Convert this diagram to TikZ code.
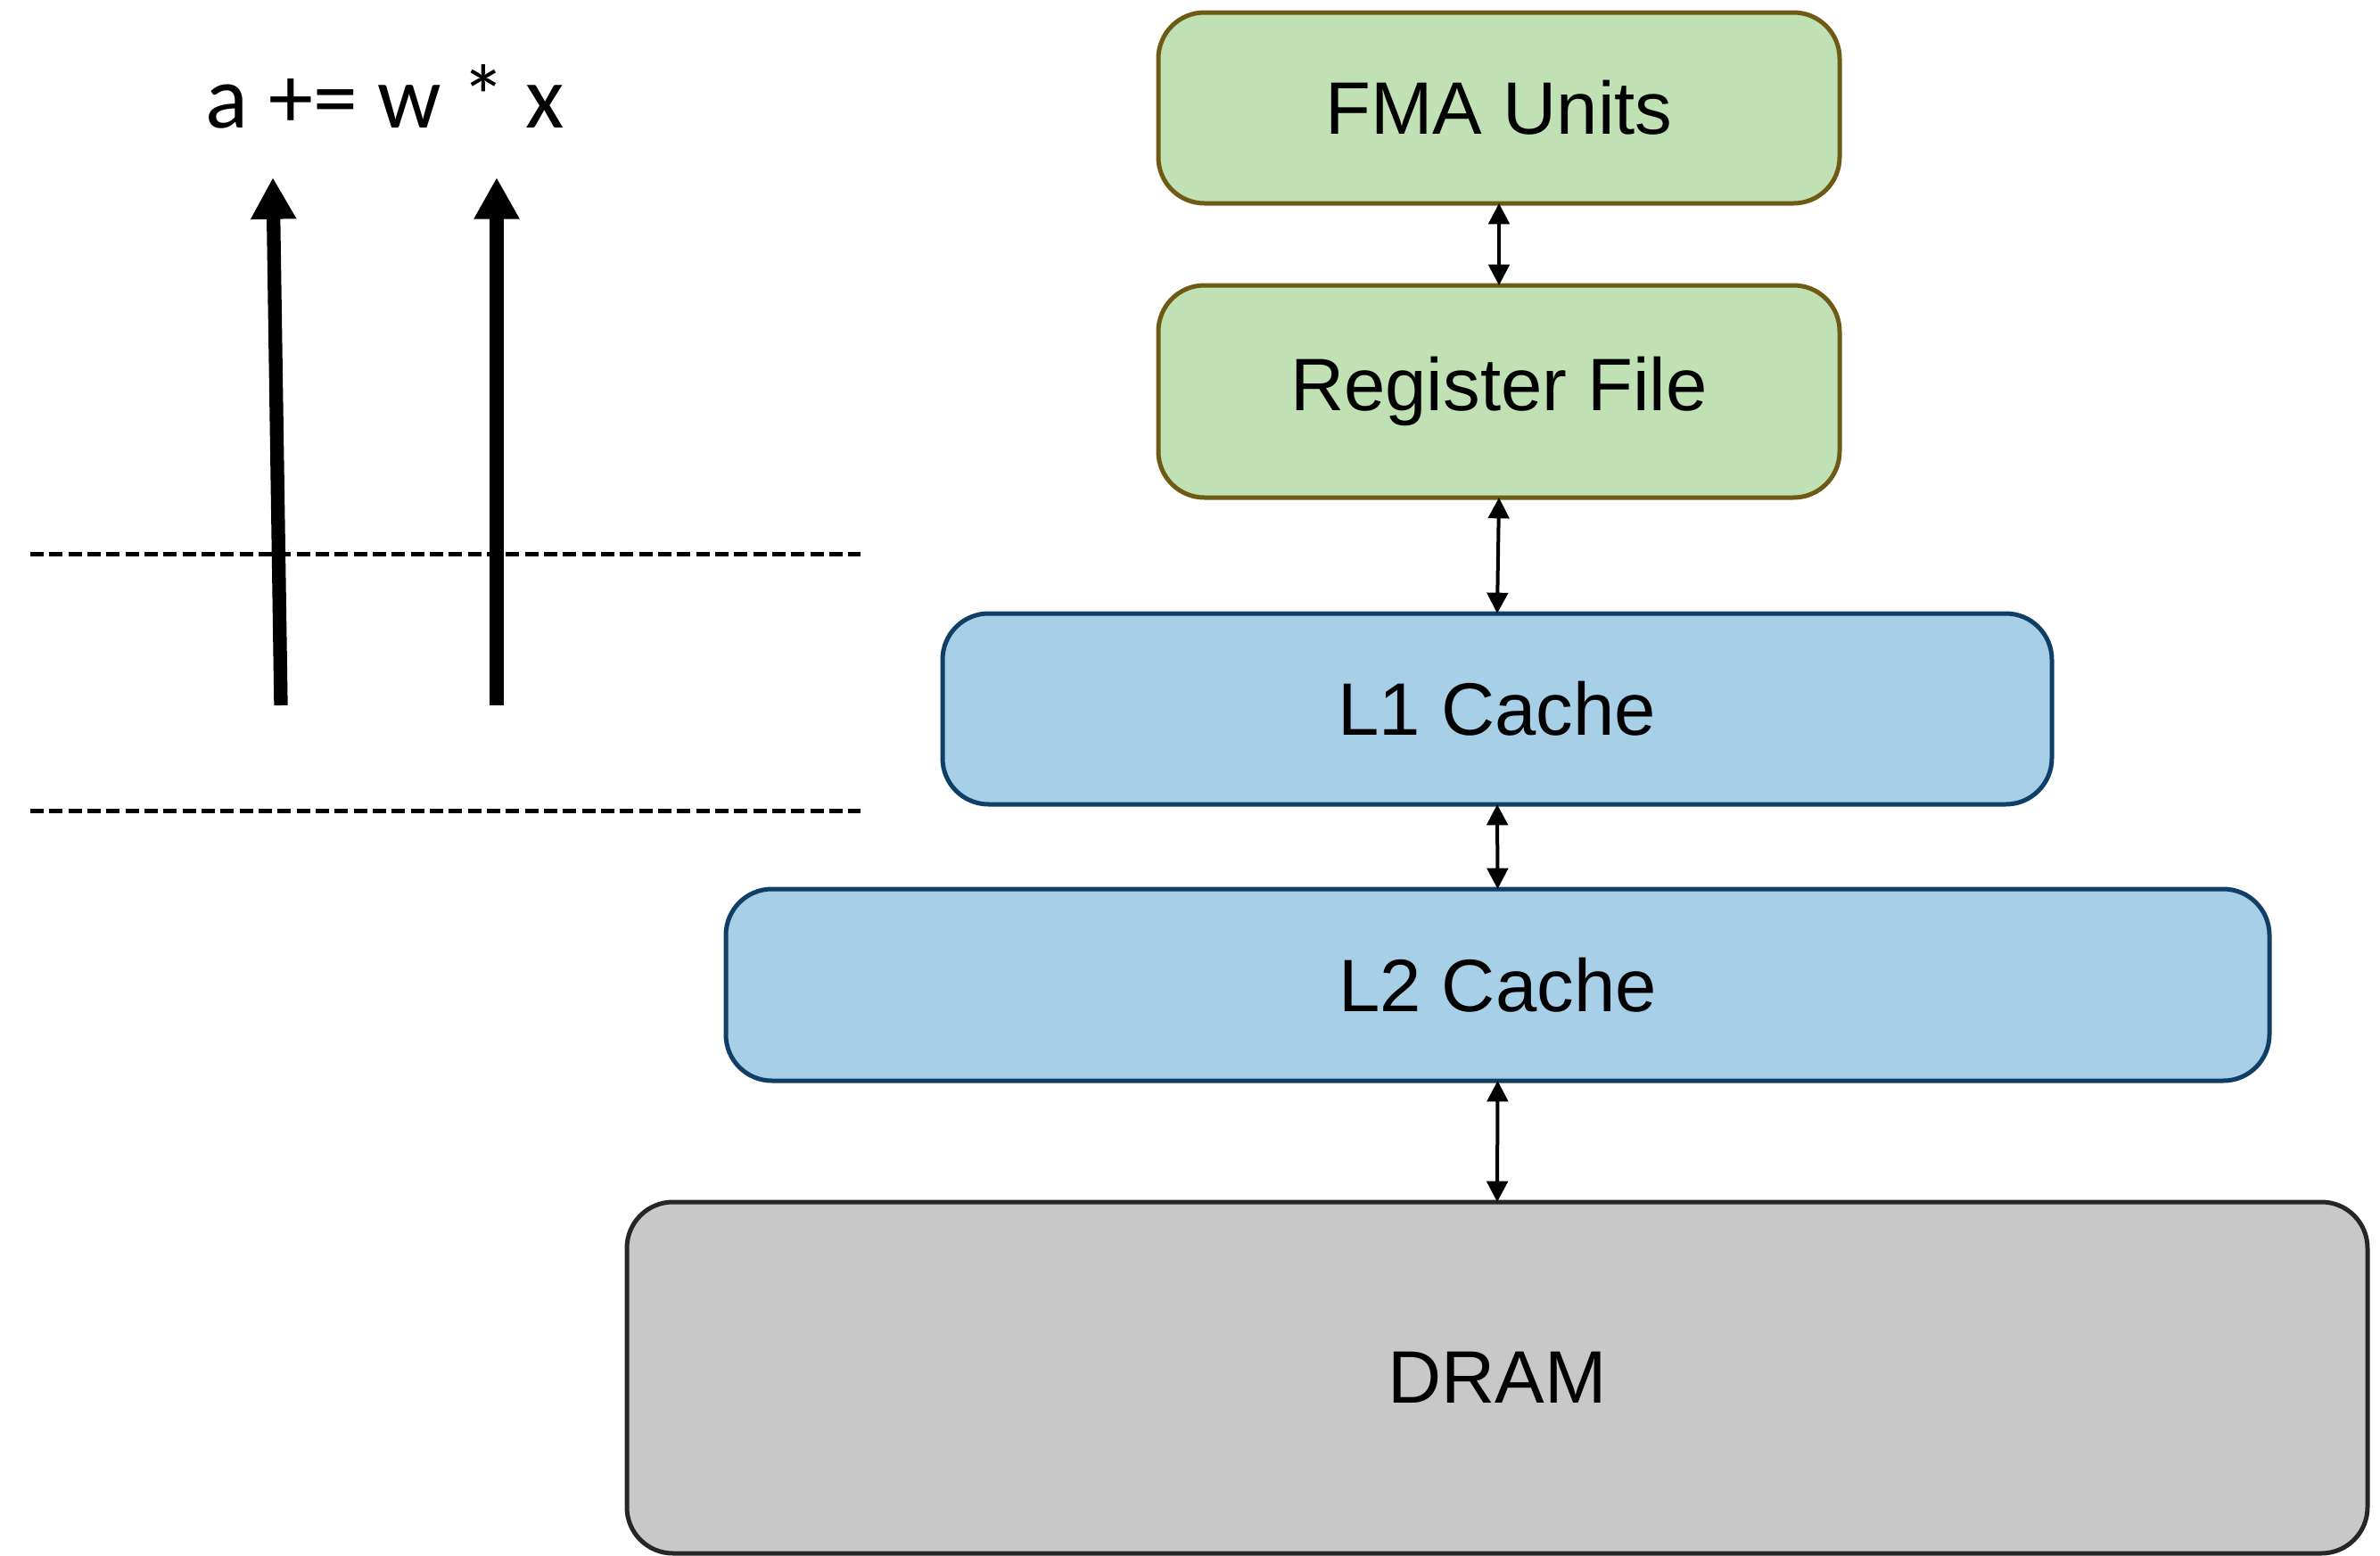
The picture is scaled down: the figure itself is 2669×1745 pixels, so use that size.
\documentclass[tikz,border=0pt]{standalone}
\usepackage{fontspec}
\setmainfont{Liberation Sans}
\newfontfamily\formulafont{Carlito}
\usetikzlibrary{arrows.meta}

\definecolor{greenfill}{HTML}{C0E1B3}
\definecolor{greenline}{HTML}{6E5A14}
\definecolor{bluefill}{HTML}{A7D0E8}
\definecolor{blueline}{HTML}{0F3F66}
\definecolor{greyfill}{HTML}{C8C8C8}
\definecolor{greyline}{HTML}{262626}

\begin{document}
\begin{tikzpicture}[x=0.3pt,y=-0.3pt,
  level/.style={draw, line width=1.5pt, rounded corners=15.5pt, inner sep=0pt,
    outer sep=0pt, font=\fontsize{25}{30}\selectfont},
  greenlevel/.style={level, draw=greenline, fill=greenfill},
  bluelevel/.style={level, draw=blueline, fill=bluefill},
  greylevel/.style={level, draw=greyline, fill=greyfill},
  link/.style={line width=1.2pt,
    {Triangle[length=7pt,width=7pt]}-{Triangle[length=7pt,width=7pt]}},
  operand/.style={line width=4.6pt, -{Triangle[length=14pt,width=14.4pt]}},
  boundary/.style={line width=1.5pt, dash pattern=on 4.5pt off 1.9pt}]
\useasboundingbox (0,0) rectangle (2669,1745);

% memory hierarchy
\node[greenlevel, minimum width=229.2pt, minimum height=64.2pt] (fma) at (1681,121) {FMA Units};
\node[greenlevel, minimum width=229.2pt, minimum height=71.4pt] (reg) at (1681,439) {Register File};
\node[bluelevel, minimum width=373.2pt, minimum height=64.2pt] (l1) at (1679,795) {L1 Cache};
\node[bluelevel, minimum width=519.3pt, minimum height=64.5pt] (l2) at (1679.5,1104.5) {L2 Cache};
\node[greylevel, minimum width=585.6pt, minimum height=118.2pt] (dram) at (1679,1545) {DRAM};

\draw[link] (fma.south) -- (reg.north);
\draw[link] (reg.south) -- (l1.north);
\draw[link] (l1.south) -- (l2.north);
\draw[link] (l2.south) -- (dram.north);

% the operation and its operands
\node[anchor=base, inner sep=0pt, font=\formulafont\fontsize{30}{36}\selectfont] (op) at (432,143) {a += w * x};

\coordinate (aTail) at (315,791);
\coordinate (aTip) at (306,199);
\coordinate (wTail) at (557,791);
\coordinate (wTip) at (557,199);
\draw[operand] (aTail) -- (aTip);
\draw[operand] (wTail) -- (wTip);

\coordinate (upperL) at (34,621);
\coordinate (upperR) at (965,621);
\coordinate (lowerL) at (34,909);
\coordinate (lowerR) at (965,909);
\draw[boundary] (upperL) -- (upperR);
\draw[boundary] (lowerL) -- (lowerR);
\end{tikzpicture}
\end{document}
